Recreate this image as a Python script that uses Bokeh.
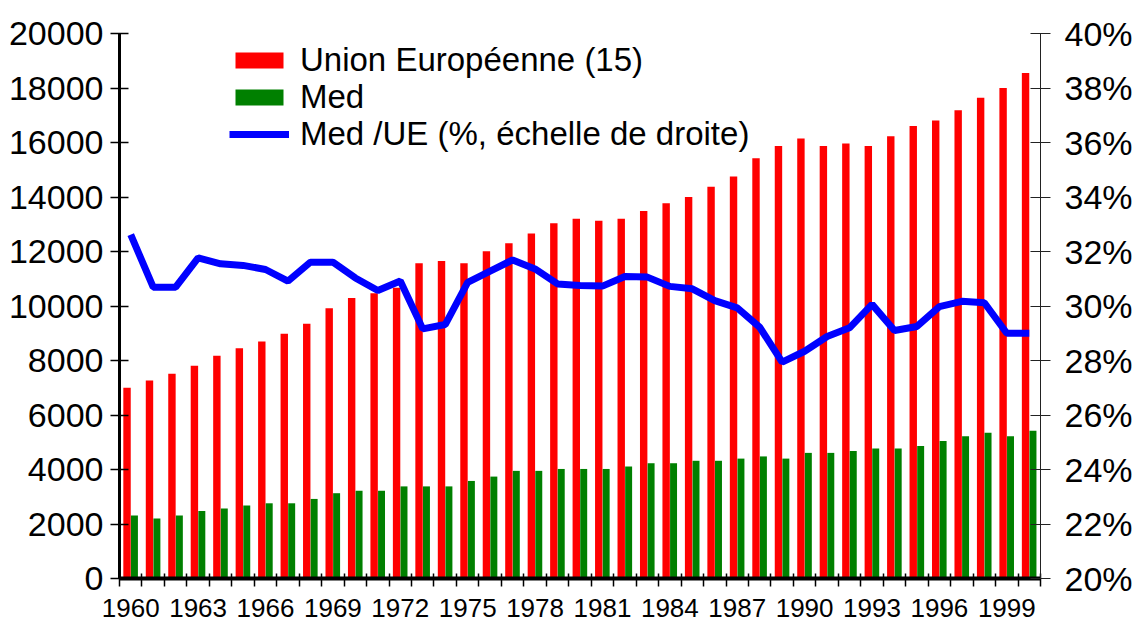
from bokeh.plotting import figure
from bokeh.models import (ColumnDataSource, Range1d, LinearAxis, FixedTicker,
                          PrintfTickFormatter, NumeralTickFormatter, Legend, LegendItem)
from bokeh.transform import dodge
from bokeh.embed import file_html
from bokeh.resources import INLINE

years = list(range(1960, 2001))
eu15 = [7000, 7270, 7510, 7810, 8170, 8450, 8700, 8980, 9350, 9920,
        10290, 10470, 10670, 11570, 11650, 11570, 12010, 12300, 12660, 13040,
        13200, 13130, 13200, 13490, 13770, 14000, 14380, 14750, 15420, 15870,
        16150, 15870, 15960, 15870, 16230, 16610, 16810, 17180, 17640, 18000,
        18550]
med = [2310, 2200, 2310, 2480, 2570, 2680, 2760, 2760, 2920, 3130,
       3220, 3220, 3380, 3380, 3380, 3580, 3740, 3950, 3950, 4020,
       4020, 4020, 4110, 4230, 4230, 4320, 4320, 4400, 4480, 4400,
       4610, 4610, 4680, 4770, 4770, 4860, 5050, 5220, 5350, 5220,
       5420]
ratio = [32.62, 30.69, 30.69, 31.77, 31.55, 31.49, 31.34, 30.91, 31.61, 31.61,
         31.03, 30.57, 30.92, 29.16, 29.32, 30.87, 31.28, 31.69, 31.36, 30.81,
         30.75, 30.73, 31.08, 31.06, 30.72, 30.63, 30.20, 29.93, 29.22, 27.94,
         28.34, 28.88, 29.20, 30.06, 29.10, 29.25, 29.98, 30.17, 30.12, 29.00,
         29.00]
label_years = list(range(1960, 2000, 3))
left_ticks = list(range(0, 20001, 2000))
right_ticks = list(range(20, 41, 2))
legend_labels = ["Union Européenne (15)", "Med", "Med /UE (%, échelle de droite)"]

src = ColumnDataSource(dict(year=years, eu=eu15, med=med, ratio=ratio))

FONT = "Liberation Sans"

p = figure(width=1135, height=628, output_backend="svg", toolbar_location=None,
           x_range=Range1d(1959.5, 2000.5), y_range=Range1d(0, 20000),
           min_border_left=119, min_border_right=93, min_border_top=33,
           min_border_bottom=50, y_axis_location=None, x_axis_location=None)
p.outline_line_color = None
p.grid.visible = False
p.background_fill_color = "white"
p.border_fill_color = "white"
p.extra_y_ranges = {"pct": Range1d(20, 40)}

r_eu = p.vbar(x=dodge("year", -0.165, range=p.x_range), top="eu", width=0.33,
              source=src, fill_color="#FF0000", line_color=None)
r_med = p.vbar(x=dodge("year", 0.165, range=p.x_range), top="med", width=0.31,
               source=src, fill_color="#008000", line_color=None)
r_ratio = p.line(x="year", y="ratio", source=src, y_range_name="pct",
                 line_color="#0000FF", line_width=7)

# left axis
ya = LinearAxis(ticker=FixedTicker(ticks=left_ticks, minor_ticks=[]),
                formatter=NumeralTickFormatter(format="0"))
ya.axis_line_width = 3
ya.axis_line_color = "black"
ya.major_tick_in = 9
ya.major_tick_out = 9
ya.major_tick_line_width = 1.5
ya.minor_tick_line_color = None
ya.major_label_text_font = FONT
ya.major_label_text_font_size = "34px"
ya.major_label_text_color = "black"
ya.major_label_standoff = 7
p.add_layout(ya, "left")

# right axis
ra = LinearAxis(y_range_name="pct", ticker=FixedTicker(ticks=right_ticks, minor_ticks=[]),
                formatter=PrintfTickFormatter(format="%d%%"))
ra.axis_line_width = 1
ra.axis_line_color = "#222222"
ra.major_tick_in = 10
ra.major_tick_out = 10
ra.major_tick_line_width = 1
ra.major_tick_line_color = "#222222"
ra.minor_tick_line_color = None
ra.major_label_text_font = FONT
ra.major_label_text_font_size = "34px"
ra.major_label_text_color = "black"
ra.major_label_standoff = 14
p.add_layout(ra, "right")

# bottom axis
bounds = [y - 0.5 for y in years] + [2000.5]
xa = LinearAxis(ticker=FixedTicker(ticks=label_years, minor_ticks=bounds))
xa.axis_line_width = 4
xa.axis_line_color = "black"
xa.major_tick_line_color = None
xa.major_tick_in = 0
xa.major_tick_out = 8
xa.minor_tick_in = 5
xa.minor_tick_out = 8
xa.minor_tick_line_width = 1.5
xa.minor_tick_line_color = "black"
xa.major_label_text_font = FONT
xa.major_label_text_font_size = "26px"
xa.major_label_text_color = "black"
xa.major_label_standoff = 12
p.add_layout(xa, "below")

# legend: one single-row legend per entry, so the rows can sit close together
for lab, rend, vy in zip(legend_labels, [r_eu, r_med, r_ratio], [499, 462, 425]):
    lg = Legend(items=[LegendItem(label=lab, renderers=[rend])], location=(110, vy))
    lg.glyph_width = 60
    lg.glyph_height = 20
    lg.label_text_font = FONT
    lg.label_text_font_size = "33px"
    lg.label_text_color = "black"
    lg.label_standoff = 11
    lg.spacing = 0
    lg.padding = 0
    lg.margin = 0
    lg.border_line_color = None
    lg.background_fill_alpha = 0
    p.add_layout(lg, "center")

open("out.html", "w").write(file_html(p, INLINE))
